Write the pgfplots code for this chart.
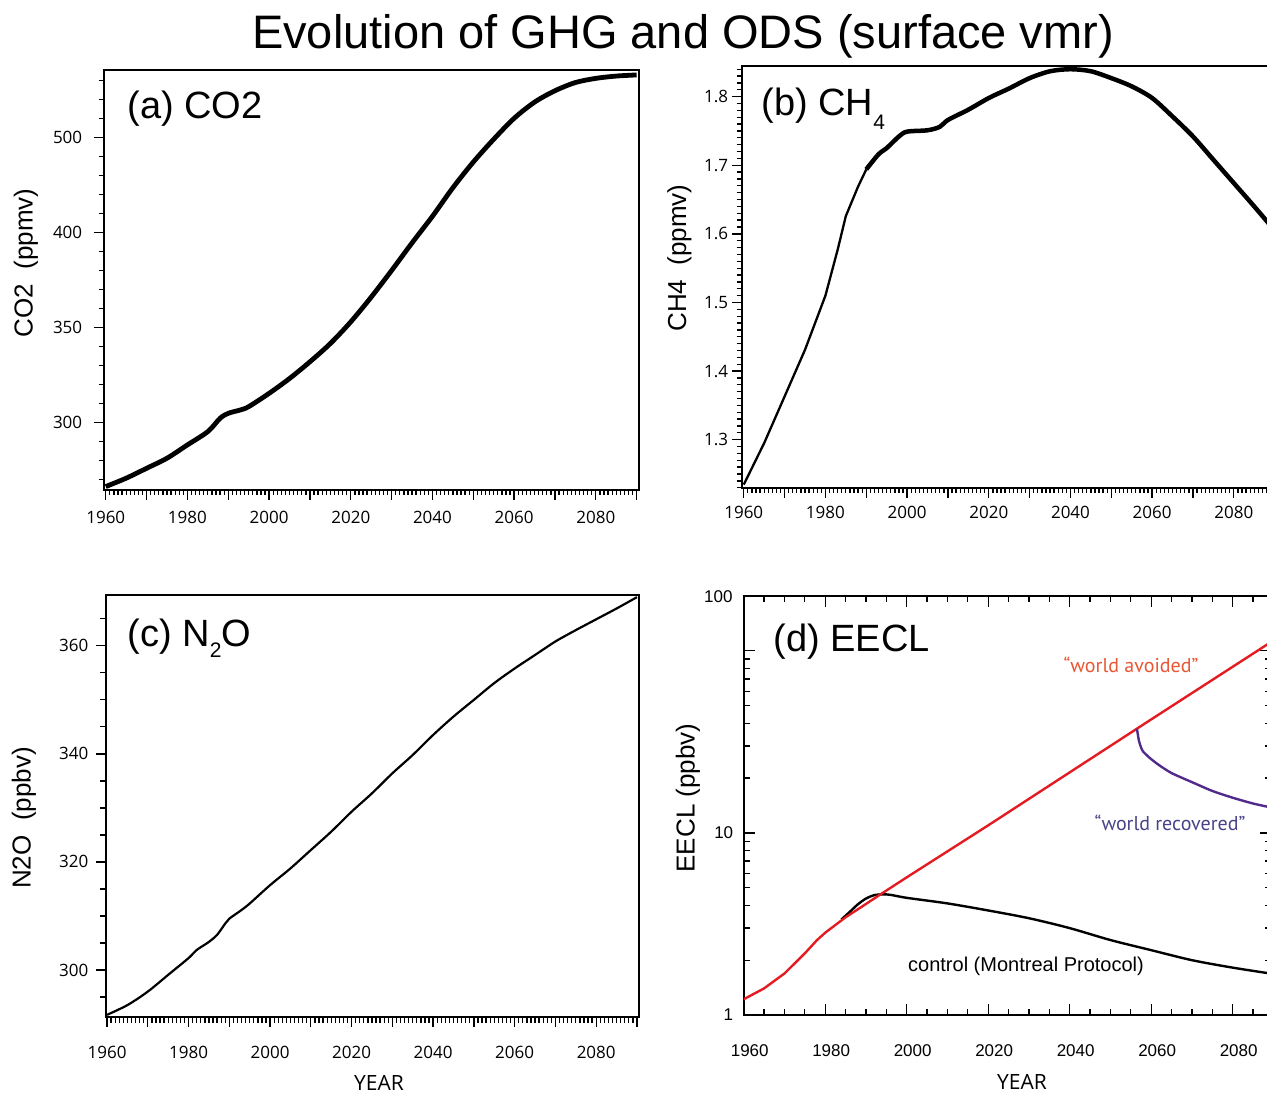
\documentclass[border=0pt]{standalone}
\usepackage{fontspec}
\setmainfont{Liberation Sans}
\newfontfamily\myr{PT Sans}
\newfontfamily\tkf{Open Sans}
\usepackage{pgfplots}
\pgfplotsset{compat=1.18}
\definecolor{avred}{RGB}{228,28,34}
\definecolor{recpur}{RGB}{82,42,140}
\definecolor{avtxt}{RGB}{232,86,50}
\definecolor{rectxt}{RGB}{72,66,136}
\pgfplotsset{
  outpanel/.style={
    scale only axis, axis line style={line width=1.6pt},
    tick align=outside, xtick pos=left, ytick pos=left,
    major tick length=10pt, minor tick length=5pt,
    tick style={line width=1.3pt, black},
    xtick={1960,1980,...,2080}, xticklabels={1960,1980,2000,2020,2040,2060,2080},
    extra x ticks={1970,1990,...,2090}, extra x tick labels={},
    minor xtick={1960,1961,...,2090},
    tick label style={font=\tkf\fontsize{17}{17}\selectfont},
  }
}
\begin{document}
\begin{tikzpicture}
\useasboundingbox (0pt,0pt) rectangle (1267pt,1094pt);
\clip (0pt,0pt) rectangle (1267pt,1094pt);

\node[anchor=base, font=\fontsize{47}{47}\selectfont] at (683pt,1045pt) {Evolution of GHG and ODS (surface vmr)};

% (a) CO2
\begin{axis}[outpanel, at={(103.7pt,604pt)}, anchor=south west,
  width=535pt, height=420pt, xmin=1959.5, xmax=2090.5, ymin=264.6, ymax=485.4,
  ytick={300,350,400,450}, yticklabels={300,350,400,500},
  minor ytick={270,280,...,480},
  xticklabel style={yshift=-8pt}, yticklabel style={xshift=-8pt}]
\addplot[black, line width=4.8pt, line join=round, smooth, tension=0.5] coordinates {
(1960,266.4) (1965,270.8) (1970,276.0) (1975,281.3) (1980,288.3) (1985,295.3)
(1988,302.3) (1990,304.9) (1993,306.7) (1995,308.4) (2000,315.4) (2005,323.2)
(2010,332.0) (2015,341.6) (2020,353.0) (2025,366.0) (2030,380.0) (2035,394.5)
(2040,408.5) (2045,423.5) (2050,437.0) (2055,449.0) (2060,460.0) (2065,468.5)
(2070,474.5) (2075,478.8) (2080,481.0) (2085,482.2) (2090,482.8)};
\end{axis}

% (b) CH4
\begin{axis}[outpanel, at={(741.7pt,606pt)}, anchor=south west,
  width=535pt, height=422pt, xmin=1959.5, xmax=2090.5, ymin=1.2296, ymax=1.8447,
  ytick={1.3,1.4,1.5,1.6,1.7,1.8}, yticklabels={1.3,1.4,1.5,1.6,1.7,1.8},
  minor ytick={1.23,1.24,...,1.845},
  xticklabel style={yshift=-5pt}]
\addplot[black, line width=2.3pt, line join=round] coordinates {
(1960,1.2345) (1965,1.295) (1970,1.363) (1975,1.431) (1980,1.510) (1983,1.577)
(1985,1.626) (1988,1.669) (1990,1.694)};
\addplot[black, line width=4.5pt, line join=round, smooth, tension=0.5] coordinates {
(1990,1.694) (1993,1.716) (1995,1.725) (1998,1.742) (2000,1.749) (2005,1.751)
(2008,1.756) (2010,1.766) (2015,1.781) (2020,1.798) (2025,1.812) (2030,1.827)
(2035,1.837) (2040,1.840) (2045,1.837) (2050,1.827) (2055,1.815) (2060,1.798)
(2065,1.771) (2070,1.742) (2075,1.708) (2080,1.674) (2085,1.640) (2090,1.605)};
\end{axis}

% (c) N2O
\begin{axis}[outpanel, at={(105.8pt,77pt)}, anchor=south west,
  width=533.2pt, height=422pt, xmin=1959.7, xmax=2090.5, ymin=291.3, ymax=369.4,
  ytick={300,320,340,360}, yticklabels={300,320,340,360},
  minor ytick={295,300,...,365}, major tick length=10pt, minor tick length=6pt,
  xticklabel style={yshift=-16pt}, yticklabel style={xshift=-4pt}]
\addplot[black, line width=2.2pt, line join=round, smooth, tension=0.5] coordinates {
(1960,291.7) (1965,293.5) (1970,296.0) (1975,299.1) (1980,302.2) (1982,303.7)
(1985,305.2) (1987,306.5) (1989,308.6) (1990,309.5) (1993,311.1) (1995,312.3)
(2000,315.7) (2005,318.8) (2010,322.2) (2015,325.6) (2020,329.3) (2025,332.7)
(2030,336.4) (2035,339.8) (2040,343.5) (2045,346.9) (2050,350.0) (2055,353.1)
(2060,355.8) (2065,358.3) (2070,360.8) (2075,362.9) (2080,364.9) (2085,366.9)
(2090,369.0)};
\end{axis}

% (d) EECL
\begin{axis}[at={(743.7pt,79pt)}, anchor=south west, scale only axis,
  width=527.7pt, height=419pt, xmin=1960, xmax=2089.5,
  ymode=log, ymin=1, ymax=200,
  axis line style={line width=1.6pt}, tick align=inside,
  xtick pos=both, ytick pos=both,
  major tick length=11pt, minor tick length=6pt,
  tick style={line width=1.3pt, black},
  xtick={1960,1980,...,2080}, xticklabels={1960,1980,2000,2020,2040,2060,2080},
  minor xtick={1965,1970,...,2085},
  ytick={1,10,100}, yticklabels={1,10,{}},
  minor ytick={2,3,...,9,20,30,...,90},
  tick label style={font=\fontsize{17}{17}\selectfont},
  xticklabel style={xshift=6pt, yshift=-26pt}, yticklabel style={xshift=-7pt}]
\addplot[black, line width=2.4pt, line join=round, smooth, tension=0.5] coordinates {
(1984,3.35) (1986,3.68) (1988,4.05) (1990,4.36) (1992,4.55) (1994,4.60)
(1996,4.57) (2000,4.40) (2010,4.10) (2020,3.75) (2030,3.40) (2040,3.00)
(2050,2.58) (2060,2.27) (2070,2.00) (2080,1.82) (2090,1.68)};
\addplot[avred, line width=2.4pt, line join=round] coordinates {
(1960,1.22) (1965,1.40) (1970,1.69) (1975,2.18) (1978,2.58) (1980,2.83)
(1982,3.06) (1985,3.44) (1990,4.07) (1993,4.51) (2000,5.7) (2020,11.0)
(2040,21.5) (2060,42.0) (2090,114)};
\addplot[recpur, line width=2.4pt, line join=round, smooth, tension=0.4] coordinates {
(2056.5,37.3) (2057,32.0) (2057.5,29.5) (2058,28.0) (2059,26.6) (2060,25.4)
(2062,23.5) (2065,21.3) (2070,19.0) (2075,17.0) (2080,15.6) (2085,14.5)
(2090,13.7)};
\end{axis}
\node[anchor=east, font=\fontsize{17}{17}\selectfont] at (736pt,497pt) {100};

% panel labels
\node[anchor=base west, font=\fontsize{38}{38}\selectfont] at (124pt,975pt) {(a) CO2};
\node[anchor=base west, font=\fontsize{38}{38}\selectfont] at (758pt,978pt) {(b) CH\raisebox{-14pt}{\fontsize{21}{21}\selectfont 4}};
\node[anchor=base west, font=\fontsize{38}{38}\selectfont] at (124pt,447pt) {(c) N\raisebox{-11pt}{\fontsize{21}{21}\selectfont 2}O};
\node[anchor=base west, font=\fontsize{38}{38}\selectfont] at (770pt,442pt) {(d) EECL};

% axis labels
\node[rotate=90, font=\fontsize{26}{26}\selectfont] at (26pt,831pt) {CO2\ \ (ppmv)};
\node[rotate=90, font=\fontsize{26}{26}\selectfont] at (679.5pt,836pt) {CH4\ \ (ppmv)};
\node[rotate=90, font=\fontsize{26}{26}\selectfont] at (24pt,276pt) {N2O\ \ (ppbv)};
\node[rotate=90, font=\fontsize{26}{26}\selectfont] at (688pt,296pt) {EECL (ppbv)};
\node[font=\tkf\fontsize{21}{21}\selectfont] at (379pt,11pt) {YEAR};
\node[font=\tkf\fontsize{21}{21}\selectfont] at (1022pt,12pt) {YEAR};

% annotations
\node[font=\myr\fontsize{20}{20}\selectfont, text=avtxt] at (1131pt,429pt) {“world avoided”};
\node[font=\myr\fontsize{20}{20}\selectfont, text=rectxt] at (1170pt,271pt) {“world recovered”};
\node[font=\fontsize{20}{20}\selectfont] at (1026pt,128pt) {control (Montreal Protocol)};
\end{tikzpicture}
\end{document}
